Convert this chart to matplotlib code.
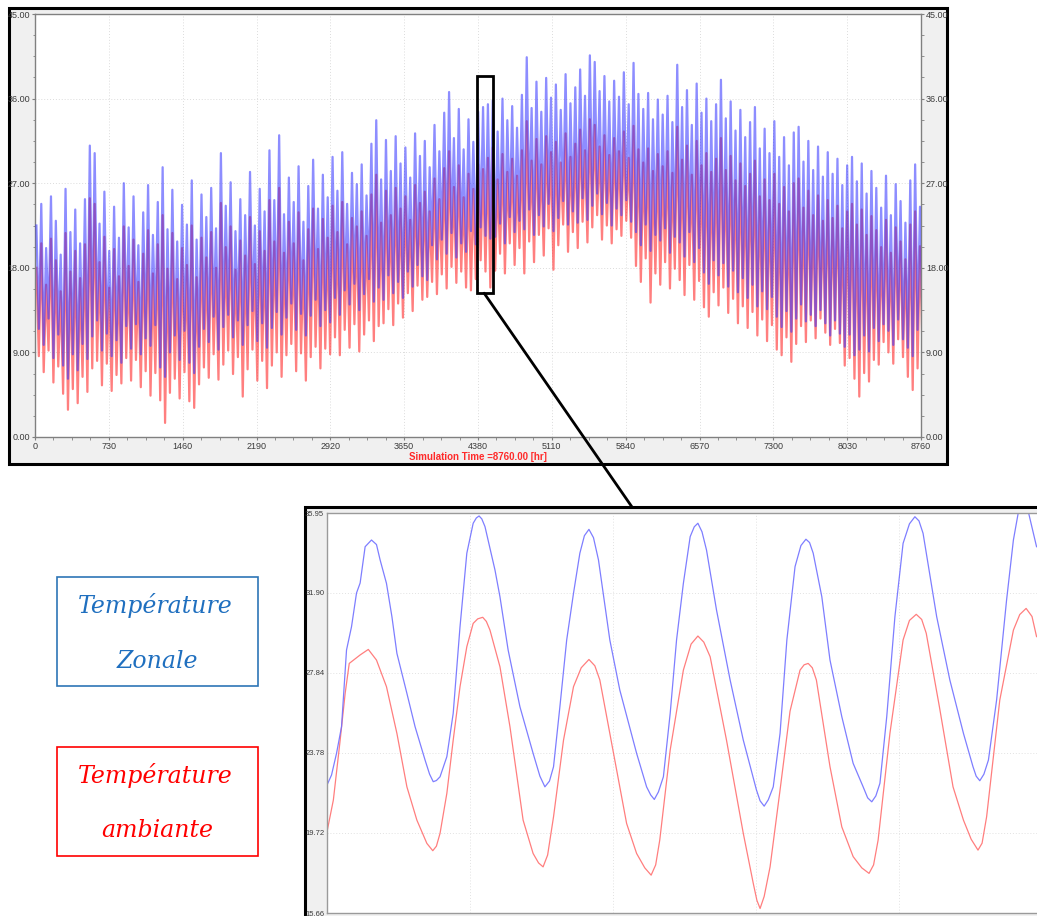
import numpy as np
import matplotlib
matplotlib.use("Agg")
import matplotlib.pyplot as plt
from matplotlib.patches import Rectangle, ConnectionPatch
from matplotlib.ticker import FixedLocator, MultipleLocator, FormatStrFormatter

plt.rcParams["font.family"] = ["Liberation Sans", "DejaVu Sans"]

W, H = 1037, 916

# ---------------------------------------------------------------------------
# Annual simulation (one max / min pair every SAMPLE_HOURS hours)
# ---------------------------------------------------------------------------
SAMPLE_HOURS = 48

zonale_max = [
    22.5, 24.8, 20.1, 25.6, 23.0, 19.4, 26.4, 21.8, 24.2, 20.6,
    25.3, 31.0, 30.2, 22.7, 26.1, 19.8, 24.5, 21.2, 27.0, 22.3,
    25.6, 20.4, 23.9, 26.8, 21.5, 25.0, 28.7, 22.1, 26.3, 20.8,
    24.7, 22.6, 27.3, 21.0, 25.8, 23.4, 26.5, 22.2, 30.2, 24.6,
    27.1, 21.9, 25.3, 23.6, 28.2, 22.5, 26.4, 24.0, 30.5, 25.2,
    32.1, 23.7, 27.6, 25.0, 28.8, 22.9, 26.7, 29.5, 24.3, 27.9,
    25.5, 29.8, 26.2, 30.3, 24.8, 28.1, 26.9, 29.0, 25.7, 31.2,
    33.7, 27.4, 31.6, 28.3, 32.0, 29.1, 30.8, 27.6, 32.3, 29.9,
    31.5, 28.7, 33.2, 30.4, 34.5, 36.7, 31.8, 34.9, 30.6, 33.8,
    31.4, 34.6, 35.1, 35.4, 35.8, 32.5, 36.0, 33.7, 35.2, 32.9,
    36.4, 40.4, 35.0, 37.8, 34.6, 38.2, 36.1, 37.5, 34.8, 38.6,
    35.5, 37.2, 39.1, 36.3, 40.6, 39.9, 36.8, 38.4, 35.7, 37.9,
    36.2, 38.8, 35.4, 39.8, 36.5, 34.9, 36.6, 33.8, 35.9, 34.3,
    36.3, 33.5, 39.6, 35.1, 36.9, 33.2, 37.6, 34.5, 36.0, 33.6,
    35.4, 38.0, 33.9, 35.7, 32.6, 34.8, 31.9, 33.5, 35.1, 30.7,
    32.8, 30.2, 33.6, 29.8, 31.9, 28.9, 32.4, 33.0, 29.3, 31.5,
    28.4, 30.9, 27.7, 30.3, 28.0, 29.6, 26.8, 28.9, 29.8, 27.2,
    29.1, 25.9, 28.3, 26.5, 24.4, 27.8, 23.6, 26.9, 25.1, 22.8,
    27.3, 29.0, 24.5,
]
zonale_min = [
    11.5, 9.8, 12.6, 8.4, 10.9, 7.6, 6.2, 8.8, 7.1, 9.9,
    8.3, 10.7, 12.4, 9.2, 11.0, 8.6, 10.3, 7.9, 11.8, 9.4,
    12.0, 8.8, 10.5, 9.7, 11.9, 7.4, 6.4, 9.0, 10.8, 8.2,
    11.3, 7.9, 6.8, 9.6, 11.5, 10.1, 12.8, 9.3, 11.7, 13.0,
    10.6, 12.4, 9.8, 11.9, 13.4, 10.2, 12.1, 9.5, 11.6, 13.3,
    10.9, 12.7, 14.2, 11.4, 13.1, 10.8, 12.9, 14.6, 11.8, 13.5,
    12.2, 14.8, 13.0, 15.6, 14.1, 16.3, 13.5, 15.2, 16.8, 14.4,
    15.9, 14.6, 17.2, 15.3, 16.5, 14.8, 17.6, 16.0, 18.3, 17.1,
    16.7, 20.4, 18.9, 21.0, 19.5, 21.7, 19.1, 20.6, 19.7, 21.9,
    20.5, 22.3, 21.4, 21.1, 21.3, 22.7, 20.6, 23.4, 21.8, 23.0,
    22.1, 24.2, 21.5, 23.6, 22.4, 24.8, 21.9, 23.3, 25.1, 22.6,
    24.0, 22.8, 25.4, 23.1, 24.6, 25.9, 23.7, 24.9, 22.5, 24.3,
    23.6, 25.2, 22.9, 21.8, 20.4, 22.6, 19.8, 21.5, 20.9, 22.2,
    19.6, 21.3, 20.7, 19.2, 21.8, 18.6, 20.1, 17.5, 16.3, 18.8,
    17.2, 18.5, 16.0, 17.7, 15.4, 16.9, 14.8, 16.2, 13.9, 15.5,
    13.6, 14.9, 12.8, 11.7, 13.4, 11.2, 12.6, 14.1, 12.3, 13.0,
    11.8, 13.5, 12.1, 10.8, 12.4, 11.0, 9.6, 10.9, 8.7, 9.3,
    10.8, 9.1, 11.6, 10.2, 12.0, 11.3, 9.8, 12.5, 10.4, 9.5,
    8.6, 11.4, 12.3,
]
ambiante_max = [
    18.0, 20.6, 16.2, 21.1, 18.8, 15.5, 21.7, 17.6, 19.8, 16.9,
    20.5, 25.4, 24.8, 18.6, 21.3, 15.9, 20.0, 17.1, 22.4, 18.2,
    21.0, 16.5, 19.5, 22.0, 17.4, 20.5, 23.6, 17.9, 21.7, 16.8,
    20.1, 18.3, 22.5, 17.0, 21.2, 19.1, 21.8, 18.0, 24.9, 20.2,
    22.4, 17.8, 20.9, 19.3, 23.4, 18.4, 21.9, 19.8, 25.2, 20.8,
    26.5, 19.6, 22.9, 20.6, 23.9, 18.8, 22.1, 24.3, 20.0, 23.2,
    21.2, 24.6, 21.8, 25.0, 20.5, 23.3, 22.4, 24.0, 21.4, 25.8,
    27.9, 22.8, 26.2, 23.6, 26.5, 24.3, 25.6, 23.1, 26.8, 24.9,
    26.1, 24.0, 27.5, 25.3, 28.6, 30.4, 26.6, 28.9, 25.5, 28.0,
    26.4, 29.0, 28.5, 29.7, 30.8, 27.4, 30.1, 28.2, 29.6, 27.8,
    30.5, 33.6, 29.4, 31.7, 29.0, 32.0, 30.3, 31.4, 29.2, 32.3,
    29.8, 31.2, 32.7, 30.5, 33.8, 33.2, 30.9, 32.1, 30.0, 31.8,
    30.4, 32.5, 29.7, 33.1, 30.6, 29.2, 30.7, 28.3, 30.1, 28.8,
    30.4, 28.1, 33.0, 29.5, 31.0, 27.9, 31.5, 28.9, 30.2, 28.2,
    29.6, 31.8, 28.4, 29.9, 27.3, 29.1, 26.7, 28.0, 29.4, 25.6,
    27.4, 25.2, 28.0, 24.8, 26.6, 24.0, 27.0, 27.5, 24.4, 26.2,
    23.6, 25.7, 23.0, 25.2, 23.3, 24.6, 22.2, 24.0, 24.8, 22.6,
    24.2, 21.5, 23.5, 22.0, 20.2, 23.1, 19.6, 22.3, 20.8, 18.9,
    22.6, 24.0, 20.3,
]
ambiante_min = [
    8.6, 6.9, 9.2, 5.8, 7.5, 4.6, 2.9, 5.1, 3.6, 6.4,
    4.8, 7.3, 8.1, 5.5, 7.8, 4.9, 6.6, 5.7, 8.4, 6.0,
    8.2, 5.3, 7.0, 4.4, 6.8, 3.9, 1.5, 4.7, 6.2, 4.1,
    6.9, 3.8, 3.1, 5.6, 7.4, 6.3, 8.8, 6.1, 7.7, 9.2,
    6.7, 8.5, 4.3, 7.2, 9.3, 6.0, 8.1, 5.2, 7.6, 9.0,
    6.4, 8.7, 9.9, 7.0, 8.9, 6.0, 8.5, 9.6, 7.3, 9.4,
    8.8, 10.6, 8.7, 11.4, 9.5, 12.0, 9.1, 10.9, 12.4, 10.2,
    11.8, 12.1, 13.6, 11.9, 14.2, 12.7, 15.3, 13.4, 16.1, 14.6,
    14.9, 16.5, 15.2, 17.3, 15.8, 18.1, 16.4, 17.6, 15.9, 15.6,
    16.8, 18.8, 17.6, 15.9, 17.7, 19.5, 17.4, 20.6, 18.3, 20.1,
    17.4, 20.8, 18.6, 21.5, 19.3, 22.2, 17.8, 20.4, 22.6, 19.7,
    21.8, 20.1, 22.9, 20.7, 22.3, 23.6, 21.0, 22.5, 20.6, 22.1,
    21.4, 23.0, 21.2, 18.2, 16.5, 19.0, 14.3, 17.4, 16.2, 18.6,
    15.8, 17.9, 16.7, 15.1, 18.3, 14.6, 16.6, 13.8, 12.8, 15.4,
    14.0, 15.9, 13.2, 14.7, 12.1, 13.9, 11.6, 13.3, 10.8, 12.5,
    10.2, 11.9, 9.3, 8.7, 10.6, 8.0, 9.9, 11.8, 10.1, 12.4,
    10.5, 12.6, 11.1, 9.8, 11.5, 10.0, 7.6, 8.4, 6.2, 4.3,
    6.8, 5.9, 8.2, 7.7, 10.1, 9.0, 7.8, 10.4, 8.5, 6.4,
    5.0, 7.3, 9.6,
]

x_ticks = [0, 730, 1460, 2190, 2920, 3650, 4380, 5110, 5840, 6570, 7300, 8030, 8760]
y_ticks = [0.0, 9.0, 18.0, 27.0, 36.0, 45.0]
x_label = "Simulation Time =8760.00 [hr]"

# ---------------------------------------------------------------------------
# Detail window (hours counted from zoom_start)
# ---------------------------------------------------------------------------
zoom_start = 4372.0
zoom_end = 4529.5
zoom_y_ticks = [15.66, 19.72, 23.78, 27.84, 31.90, 35.95]
zoom_x_grid = [4372.0, 4403.5, 4435.0, 4466.5, 4498.0, 4529.5]

zoom_zonale_hours = [
    0, 1.0, 2.1, 3.2, 4.3, 5.4, 6.5, 7.3, 8.4, 9.8,
    10.9, 11.7, 13.1, 14.3, 15.4, 17.6, 19.4, 21.6, 22.6, 23.4,
    24.1, 24.9, 26.4, 27.8, 29.3, 30.8, 32.2, 32.9, 33.5, 34.1,
    34.8, 37.0, 38.1, 39.9, 42.5, 45.4, 46.9, 48.0, 49.0, 49.9,
    51.3, 52.8, 54.3, 55.7, 56.7, 57.7, 58.7, 59.8, 62.3, 64.5,
    68.2, 70.4, 71.3, 72.1, 73.0, 74.1, 75.6, 77.0, 78.5, 80.0,
    80.9, 81.7, 82.6, 83.6, 85.8, 88.8, 91.7, 94.6, 95.4, 96.3,
    97.2, 98.3, 99.8, 101.3, 103.1, 104.4, 105.5, 106.3, 107.1, 109.0,
    110.8, 113.4, 115.9, 118.1, 119.1, 120.0, 120.9, 121.8, 123.3, 125.1,
    126.9, 128.3, 129.5, 130.4, 131.3, 134.3, 137.2, 140.2, 142.3, 143.0,
    143.8, 144.7, 145.7, 147.5, 149.7, 151.2, 152.3, 153.4, 154.5, 156.3,
]
zoom_zonale = [
    22.15, 22.66, 23.76, 25.11, 29.0, 30.18, 31.89, 32.4, 34.24, 34.58,
    34.35, 33.57, 32.38, 30.69, 28.83, 26.8, 25.11, 23.42, 22.7, 22.32,
    22.38, 22.57, 23.59, 25.79, 30.18, 33.91, 35.43, 35.7, 35.8, 35.65,
    35.26, 33.06, 31.7, 29.0, 26.12, 23.76, 22.6, 22.06, 22.35, 23.08,
    26.12, 29.51, 31.88, 33.91, 34.8, 35.12, 34.7, 33.57, 29.51, 26.97,
    23.76, 22.06, 21.65, 21.42, 21.8, 22.57, 25.79, 29.51, 32.38, 34.75,
    35.25, 35.43, 35.0, 34.07, 31.03, 27.48, 24.43, 21.9, 21.35, 21.08,
    21.4, 22.06, 24.77, 29.51, 33.23, 34.3, 34.62, 34.45, 33.91, 31.7,
    28.49, 25.62, 23.25, 22.06, 21.5, 21.3, 21.6, 22.24, 25.62, 30.69,
    34.41, 35.4, 35.76, 35.55, 34.92, 30.69, 27.48, 24.77, 23.08, 22.6,
    22.37, 22.7, 23.42, 26.46, 31.54, 34.58, 36.0, 36.7, 36.0, 34.24,
]
zoom_ambiante_hours = [
    0, 1.4, 2.9, 4.0, 4.9, 7.3, 9.1, 10.9, 13.1, 15.4,
    17.6, 19.8, 22.0, 23.3, 24.1, 24.9, 26.4, 27.8, 29.3, 30.8,
    32.2, 33.2, 34.3, 35.1, 35.9, 38.1, 40.3, 43.2, 45.4, 46.6,
    47.6, 48.6, 49.9, 52.1, 54.3, 56.0, 57.7, 59.0, 60.1, 62.3,
    66.0, 68.2, 70.0, 71.4, 72.4, 73.3, 75.6, 78.5, 80.2, 81.7,
    83.0, 84.4, 88.0, 91.7, 93.9, 94.7, 95.4, 96.3, 97.6, 99.8,
    102.0, 104.2, 105.1, 106.0, 106.9, 107.8, 110.8, 113.4, 115.9, 117.8,
    119.4, 120.4, 121.4, 124.0, 126.9, 128.3, 129.8, 131.0, 132.0, 134.9,
    137.9, 140.2, 141.9, 143.4, 144.3, 145.3, 148.2, 151.2, 152.6, 154.0,
    155.3, 156.3,
]
zoom_ambiante = [
    19.78, 21.39, 24.43, 26.8, 28.32, 28.75, 29.03, 28.49, 27.14, 24.77,
    22.06, 20.37, 19.19, 18.82, 19.05, 19.7, 21.73, 24.43, 27.14, 29.17,
    30.35, 30.58, 30.66, 30.45, 30.01, 28.15, 25.11, 20.37, 18.68, 18.2,
    18.0, 18.6, 20.54, 24.43, 27.14, 28.1, 28.52, 28.2, 27.48, 24.77,
    20.2, 18.68, 17.95, 17.58, 18.1, 19.36, 23.93, 27.98, 29.3, 29.71,
    29.4, 28.66, 24.43, 19.7, 17.16, 16.3, 15.89, 16.5, 18.0, 21.9,
    25.9, 27.98, 28.25, 28.32, 28.1, 27.48, 23.08, 20.03, 18.52, 17.95,
    17.67, 18.1, 19.36, 24.77, 29.51, 30.5, 30.81, 30.55, 29.85, 26.12,
    22.06, 20.37, 19.4, 18.85, 19.2, 20.54, 26.46, 30.01, 30.8, 31.11,
    30.7, 29.68,
]

legend_zonale = ["Température", "Zonale"]
legend_ambiante = ["Température", "ambiante"]

COL_ZONE = "#2f2fff"
COL_AMB = "#ff3030"


def fx(px):
    return px / W


def fy(py):
    return 1.0 - py / H


fig = plt.figure(figsize=(W / 100, H / 100), dpi=100)
fig.patch.set_facecolor("white")

# ---------------------------------------------------------------- main panel
fig.add_artist(Rectangle((fx(9), fy(464)), (947 - 9) / W, (464 - 8) / H,
                         transform=fig.transFigure, facecolor="#f0f0f0",
                         edgecolor="black", lw=2.2, zorder=-2))

ax = fig.add_axes([fx(35), fy(437), 886 / W, 423 / H])
ax.set_facecolor("white")

t = np.arange(len(zonale_max)) * SAMPLE_HOURS


def zigzag(hi, lo):
    xs = np.column_stack([t + 14, t + 38]).ravel()
    ys = np.column_stack([hi, lo]).ravel()
    return xs, ys


xa, ya = zigzag(ambiante_max, ambiante_min)
xz, yz = zigzag(zonale_max, zonale_min)
ax.plot(xa, ya, color=COL_AMB, lw=1.6, alpha=0.62, zorder=2)
ax.plot(xz, yz, color=COL_ZONE, lw=1.6, alpha=0.55, zorder=3)

ax.set_xlim(0, 8760)
ax.set_ylim(0, 45)
ax.xaxis.set_major_locator(FixedLocator(x_ticks))
ax.xaxis.set_minor_locator(MultipleLocator(182.5))
ax.yaxis.set_major_locator(FixedLocator(y_ticks))
ax.yaxis.set_minor_locator(MultipleLocator(2.25))
ax.yaxis.set_major_formatter(FormatStrFormatter("%.2f"))
ax.tick_params(axis="both", which="major", direction="out", length=2.5,
               width=0.8, color="#808080", labelsize=6.5,
               labelcolor="#3c3c3c", pad=1)
ax.tick_params(axis="both", which="minor", direction="out", length=1.8,
               width=0.6, color="#808080")
ax.tick_params(axis="y", which="both", left=True, right=True,
               labelleft=True, labelright=True)
ax.grid(True, which="major", color="#dcdcdc", linestyle=(0, (1, 2)), lw=0.7)
for s in ax.spines.values():
    s.set_color("#808080")
    s.set_linewidth(1.0)
ax.set_xlabel(x_label, color="#ff2a2a", fontweight="bold", fontsize=7,
              labelpad=1)

# highlighted window and its link to the detail panel
ax.add_patch(Rectangle((zoom_start, 15.3), zoom_end - zoom_start, 23.1,
                       fill=False, ec="black", lw=2, zorder=6, clip_on=False))
con = ConnectionPatch(xyA=((zoom_start + zoom_end) / 2 - 10, 15.3),
                      coordsA=ax.transData,
                      xyB=(fx(632), fy(507)), coordsB=fig.transFigure,
                      color="black", lw=2, zorder=6)
fig.add_artist(con)

# --------------------------------------------------------------- detail panel
fig.add_artist(Rectangle((fx(305), fy(930)), (1060 - 305) / W, (930 - 507) / H,
                         transform=fig.transFigure, facecolor="#f0f0f0",
                         edgecolor="black", lw=2.2, zorder=-2))

axz = fig.add_axes([fx(327), fy(913), 715 / W, 400 / H])
axz.set_facecolor("white")
axz.plot(zoom_start + np.array(zoom_ambiante_hours), zoom_ambiante,
         color="#ff7070", lw=0.9, alpha=0.9)
axz.plot(zoom_start + np.array(zoom_zonale_hours), zoom_zonale,
         color="#7070ff", lw=0.9, alpha=0.9)
axz.set_xlim(zoom_start, zoom_end)
axz.set_ylim(zoom_y_ticks[0], zoom_y_ticks[-1])
axz.xaxis.set_major_locator(FixedLocator(zoom_x_grid))
axz.yaxis.set_major_locator(FixedLocator(zoom_y_ticks))
axz.yaxis.set_major_formatter(FormatStrFormatter("%.2f"))
axz.tick_params(axis="x", bottom=False, labelbottom=False)
axz.tick_params(axis="y", length=0, labelsize=5.5, labelcolor="#3c3c3c", pad=2)
axz.grid(True, color="#e2e2e2", linestyle=(0, (1, 2)), lw=0.7)
for s in axz.spines.values():
    s.set_color("#9a9a9a")
    s.set_linewidth(1.0)

# -------------------------------------------------------------- legend boxes
text_kw = dict(fontsize=17, family=["DejaVu Serif"], style="italic",
               ha="center", va="baseline")

fig.add_artist(Rectangle((fx(57), fy(686)), (258 - 57) / W, (686 - 577) / H,
                         transform=fig.transFigure, fill=False,
                         ec="#2e75b6", lw=1.2))
fig.text(fx(155), fy(613), legend_zonale[0], color="#1f6fbf", **text_kw)
fig.text(fx(157), fy(668), legend_zonale[1], color="#1f6fbf", **text_kw)

fig.add_artist(Rectangle((fx(57), fy(856)), (258 - 57) / W, (856 - 747) / H,
                         transform=fig.transFigure, fill=False,
                         ec="#ff0000", lw=1.2))
fig.text(fx(155), fy(783), legend_ambiante[0], color="#ff0000", **text_kw)
fig.text(fx(157), fy(837), legend_ambiante[1], color="#ff0000", **text_kw)

fig.savefig("out.png", dpi=100, facecolor="white")
